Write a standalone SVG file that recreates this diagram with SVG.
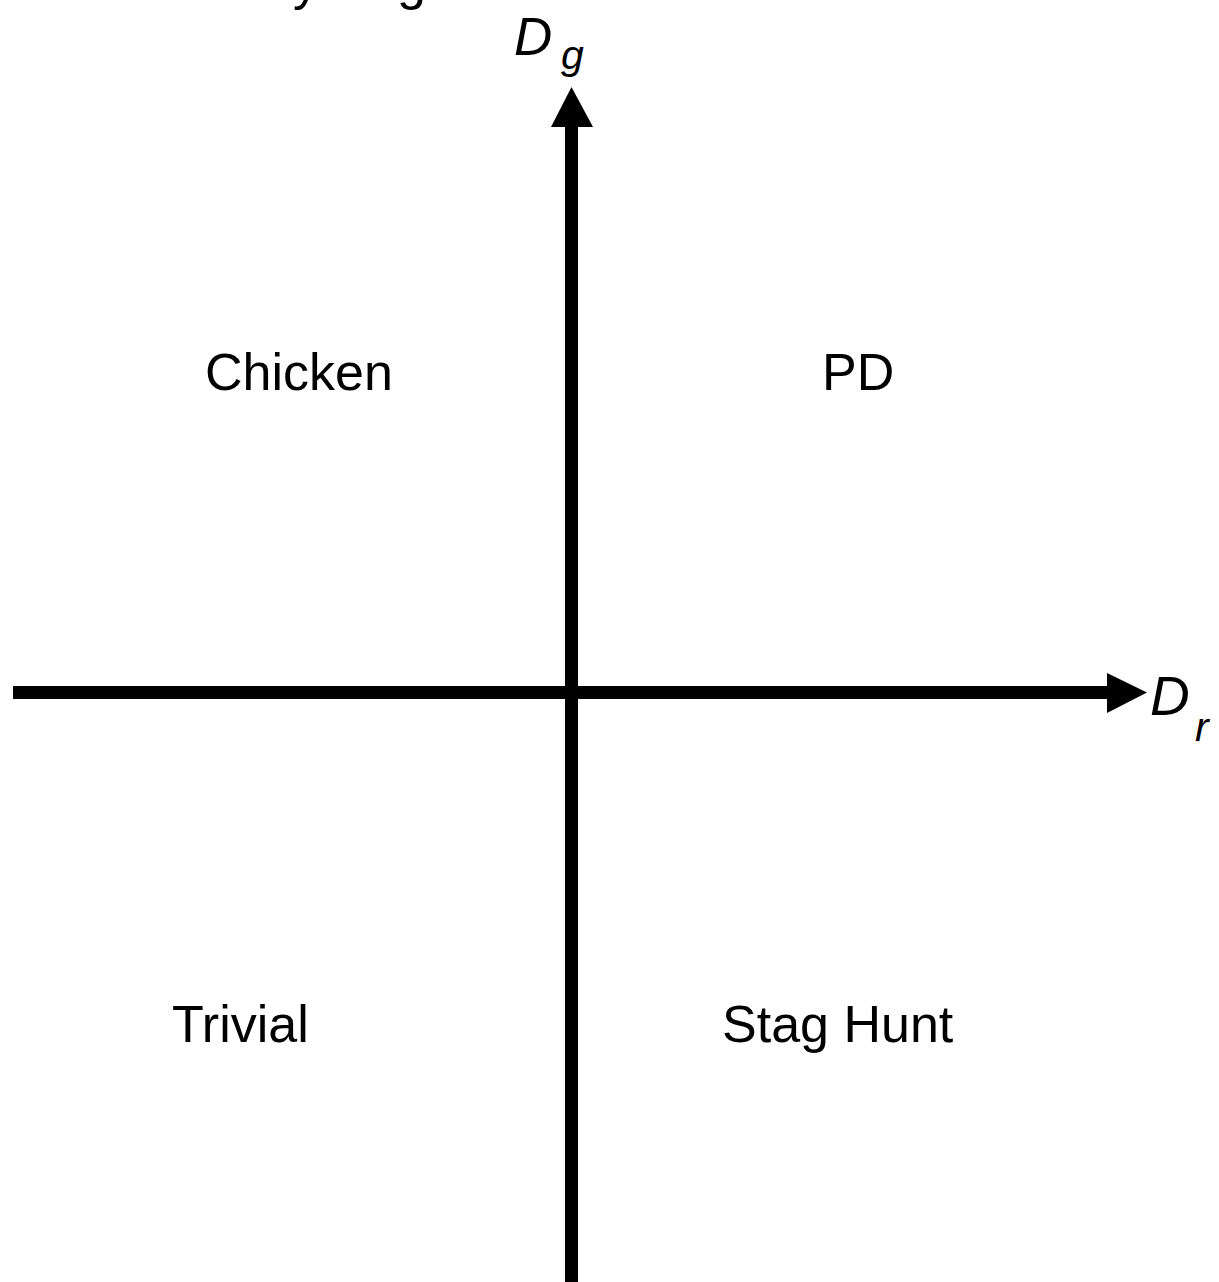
<svg xmlns="http://www.w3.org/2000/svg" width="1219" height="1282" viewBox="0 0 1219 1282">
<style>
.lbl{font-family:"Liberation Sans",Arial,sans-serif;font-size:52px;fill:#000}
.ax{font-family:"Liberation Sans",Arial,sans-serif;font-style:italic;fill:#000}
</style>
<rect width="1219" height="1282" fill="#fff"/>
<g id="title-fragment">
<text class="lbl" x="293" y="-1" font-size="53">y</text>
<text class="lbl" x="397" y="-1" font-size="53">g</text>
</g>
<g id="connectors">
<rect x="13" y="686" width="1096" height="13" fill="#000"/>
<polygon points="1107,673 1147,692.5 1107,713" fill="#000"/>
<rect x="565" y="125" width="13" height="1157" fill="#000"/>
<polygon points="551,127 571.5,87 593,127" fill="#000"/>
</g>
<g id="axis-dg">
<text class="ax" x="514" y="55" font-size="53">D</text>
<text class="ax" x="561" y="69" font-size="41">g</text>
</g>
<g id="axis-dr">
<text class="ax" x="1150" y="715" font-size="55">D</text>
<text class="ax" x="1195" y="741" font-size="41">r</text>
</g>
<g id="chicken"><text class="lbl" x="205" y="390">Chicken</text></g>
<g id="pd"><text class="lbl" x="822" y="390">PD</text></g>
<g id="trivial"><text class="lbl" x="172" y="1042">Trivial</text></g>
<g id="staghunt"><text class="lbl" x="722" y="1042">Stag Hunt</text></g>
</svg>
